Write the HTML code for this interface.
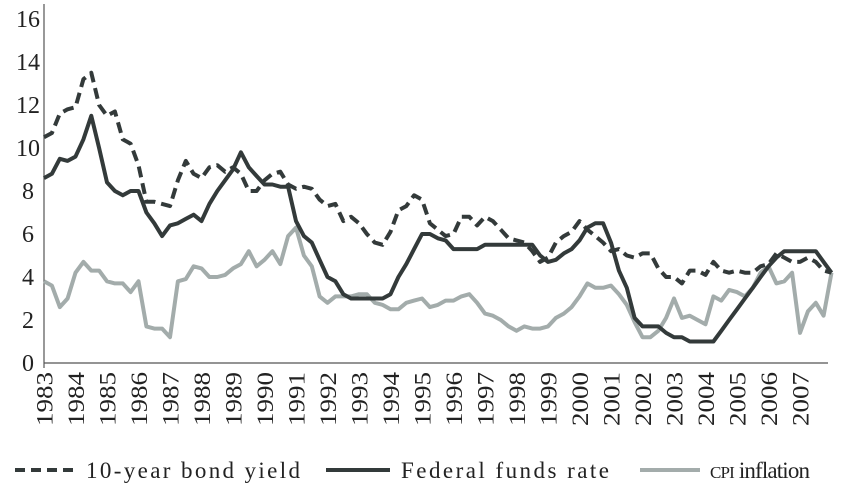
<!DOCTYPE html>
<html><head><meta charset="utf-8"><style>
html,body{margin:0;padding:0;background:#fff;}
svg{display:block;font-family:"Liberation Serif",serif;}
</style></head><body>
<svg id="chart" width="850" height="496"></svg>
<script>
const years = [1983,1984,1985,1986,1987,1988,1989,1990,1991,1992,1993,1994,1995,1996,1997,1998,1999,2000,2001,2002,2003,2004,2005,2006,2007];
const yTicks = [0,2,4,6,8,10,12,14,16];
const bondYield = [10.5,10.7,11.6,11.8, 11.9,13.2,13.5,12.0, 11.5,11.7,10.4,10.2, 9.2,7.5,7.5,7.4, 7.3,8.5,9.4,8.8, 8.6,9.1,9.2,8.9, 9.1,8.8,8.0,8.0, 8.5,8.8,8.9,8.3, 8.1,8.2,8.1,7.6, 7.3,7.4,6.6,6.8, 6.5,6.0,5.6,5.5, 6.1,7.1,7.3,7.8, 7.6,6.5,6.2,5.9, 6.0,6.8,6.8,6.4, 6.8,6.6,6.2,5.8, 5.7,5.6,5.2,4.7, 4.9,5.6,5.9,6.1, 6.6,6.2,5.9,5.6, 5.2,5.3,5.0,4.9, 5.1,5.1,4.4,4.0, 4.0,3.7,4.3,4.3, 4.1,4.7,4.3,4.2, 4.3,4.2,4.2,4.5, 4.6,5.1,4.9,4.7, 4.7,4.9,4.7,4.3, 4.2];
const fedFunds = [8.6,8.8,9.5,9.4, 9.6,10.4,11.5,10.0, 8.4,8.0,7.8,8.0, 8.0,7.0,6.5,5.9, 6.4,6.5,6.7,6.9, 6.6,7.4,8.0,8.5, 9.0,9.8,9.1,8.7, 8.3,8.3,8.2,8.2, 6.6,5.9,5.6,4.8, 4.0,3.8,3.2,3.0, 3.0,3.0,3.0,3.0, 3.2,4.0,4.6,5.3, 6.0,6.0,5.8,5.7, 5.3,5.3,5.3,5.3, 5.5,5.5,5.5,5.5, 5.5,5.5,5.5,5.0, 4.7,4.8,5.1,5.3, 5.7,6.3,6.5,6.5, 5.6,4.3,3.5,2.1, 1.7,1.7,1.7,1.4, 1.2,1.2,1.0,1.0, 1.0,1.0,1.5,2.0, 2.5,3.0,3.5,4.0, 4.5,4.9,5.2,5.2, 5.2,5.2,5.2,4.7, 4.2];
const cpi = [3.8,3.6,2.6,3.0, 4.2,4.7,4.3,4.3, 3.8,3.7,3.7,3.3, 3.8,1.7,1.6,1.6, 1.2,3.8,3.9,4.5, 4.4,4.0,4.0,4.1, 4.4,4.6,5.2,4.5, 4.8,5.2,4.6,5.9, 6.3,5.0,4.5,3.1, 2.8,3.1,3.1,3.1, 3.2,3.2,2.8,2.7, 2.5,2.5,2.8,2.9, 3.0,2.6,2.7,2.9, 2.9,3.1,3.2,2.8, 2.3,2.2,2.0,1.7, 1.5,1.7,1.6,1.6, 1.7,2.1,2.3,2.6, 3.1,3.7,3.5,3.5, 3.6,3.2,2.7,1.9, 1.2,1.2,1.5,2.1, 3.0,2.1,2.2,2.0, 1.8,3.1,2.9,3.4, 3.3,3.1,3.5,4.2, 4.5,3.7,3.8,4.2, 1.4,2.4,2.8,2.2, 4.2];

const NS='http://www.w3.org/2000/svg';
const svg=document.getElementById('chart');
const x0=44, pxYear=31.5, y0=363, pxUnit=21.5;
const xs=t=>x0+(t-1983)*pxYear;
const ys=v=>y0-v*pxUnit;
function mk(tag,attrs){const e=document.createElementNS(NS,tag);for(const k in attrs)e.setAttribute(k,attrs[k]);svg.appendChild(e);return e;}

const yAxis=mk('line',{x1:x0,y1:4,x2:x0,y2:y0,stroke:'#555','stroke-width':1.2});


const xAxis=mk('line',{x1:x0,y1:y0,x2:828,y2:y0,stroke:'#555','stroke-width':1.2});


mk('line',{x1:x0,y1:y0,x2:x0,y2:y0+5,stroke:'#555','stroke-width':1.2});

yTicks.forEach(v=>{
  const t=mk('text',{x:28,y:ys(v)+8,'text-anchor':'middle','font-size':24,fill:'#222'});
  t.textContent=v;
  
  
});
years.forEach(yr=>{
  const cx=xs(yr)+1, cy=372;
  const t=mk('text',{x:cx,y:cy,transform:`rotate(-90 ${cx} ${cy})`,'text-anchor':'end','font-size':23,fill:'#222','dominant-baseline':'central',textLength:54,lengthAdjust:'spacingAndGlyphs'});
  t.textContent=yr;
  
  
});

function series(arr,stroke,dash,name){
  const pts=arr.map((v,i)=>`${xs(1983+i/4).toFixed(1)},${ys(v).toFixed(1)}`).join(' ');
  const p=mk('polyline',{points:pts,fill:'none',stroke:stroke,'stroke-width':4,'stroke-linejoin':'round'});
  if(dash)p.setAttribute('stroke-dasharray',dash);
  
  
}
series(cpi,'#a3acab',null,'cpi-inflation-line');
series(fedFunds,'#333a3a',null,'federal-funds-rate-line');
series(bondYield,'#333a3a','11,6','bond-yield-line');

function legend(x1,x2,stroke,dash,tx,tl,label,name){
  const l=mk('line',{x1:x1,y1:470,x2:x2,y2:470,stroke:stroke,'stroke-width':4});
  if(dash)l.setAttribute('stroke-dasharray',dash);
  
  
  const t=mk('text',{x:tx,y:478,'font-size':23,fill:'#222',textLength:tl,lengthAdjust:'spacing'});
  t.innerHTML=label;
  
  
}
legend(15,76,'#333a3a','10,6',86,214,'10-year bond yield','legend-bond-yield');
legend(326,390,'#333a3a',null,401,208,'Federal funds rate','legend-fed-funds');
legend(640,700,'#a3acab',null,710,100,'<tspan font-size="17">CPI</tspan> inflation','legend-cpi');
</script>
</body></html>
